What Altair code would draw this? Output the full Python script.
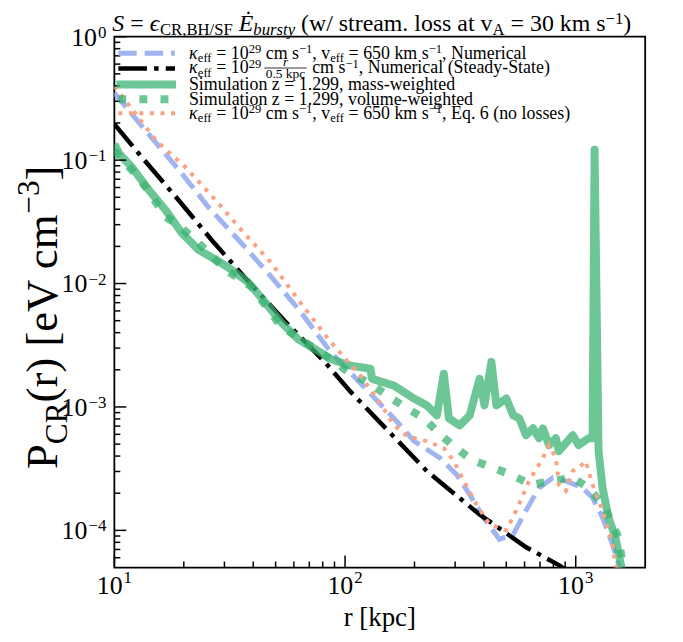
import altair as alt
import pandas as pd

# ---------------- data ----------------
blue_r = [10, 13.7, 19.6, 25.6, 35.5, 47.8, 64.4, 86.6, 123, 163, 199, 258, 305, 347,
          398, 467, 536, 609, 693, 796, 906, 1072, 1183, 1307, 1443, 1531, 1600]
blue_P = [0.35, 0.1725, 0.078, 0.0415, 0.0213, 0.01138, 0.00585, 0.00279, 0.0014,
          8.09e-4, 5.29e-4, 3.86e-4, 2.82e-4, 1.95e-4, 1.27e-4, 8.47e-5, 9.29e-5,
          1.45e-4, 2.21e-4, 2.67e-4, 2.52e-4, 2.21e-4, 1.84e-4, 1.27e-4, 7.72e-5,
          5.33e-5, 3.5e-5]

black_r = [10, 13.2, 19.0, 26.4, 38.1, 54.9, 81.6, 105.6, 226, 383, 610, 845, 1000]
black_P = [0.196, 0.1047, 0.0473, 0.02255, 0.01038, 0.00495, 0.00232, 0.00133,
           3.03e-4, 1.345e-4, 7.3e-5, 5.23e-5, 4.2e-5]

gsol_r = [10, 10.5, 11.95, 14.15, 16.7, 19.6, 23.2, 27.5, 32.2, 38.1, 45.1, 52.8, 62.5,
          73.9, 86.6, 105.6, 128.8, 131, 163, 199, 226, 250, 268, 282, 314, 347, 383,
          402, 431, 453, 500, 536, 569, 609, 653, 693, 721, 766, 820, 845, 971, 1030,
          1137, 1183, 1207, 1256, 1307, 1387, 1486, 1561, 1620]
gsol_P = [0.135, 0.1128, 0.0871, 0.0569, 0.0393, 0.0257, 0.01875, 0.0156, 0.01295,
          0.01019, 0.00703, 0.00486, 0.00355, 0.00295, 0.00245, 0.00216, 0.00204,
          0.00169, 0.00149, 0.00117, 0.00103, 8.55e-4, 0.00186, 8.09e-4, 7.1e-4,
          8.55e-4, 0.00169, 0.00103, 0.00232, 0.00103, 0.00117, 8.55e-4, 8.09e-4,
          5.9e-4, 6.71e-4, 5.58e-4, 6.71e-4, 4.91e-4, 5.58e-4, 4.39e-4, 5.9e-4,
          4.91e-4, 5.58e-4, 5.58e-4, 0.1214, 4.39e-4, 2.21e-4, 1.27e-4, 8.79e-5,
          5.53e-5, 4.0e-5]

gdot_r = [10, 11.95, 13.7, 16.7, 18.5, 23.2, 30.3, 39.2, 52.8, 71.1, 90.1, 105.6, 128.8,
          152, 180, 220, 255, 296, 354, 440, 536, 641, 796, 971, 1137, 1307, 1415,
          1531, 1592, 1650]
gdot_P = [0.119, 0.0824, 0.0601, 0.0345, 0.0309, 0.0213, 0.01295, 0.00946, 0.00452,
          0.00312, 0.00232, 0.00186, 0.00155, 0.00124, 0.00101, 8.09e-4, 6.12e-4,
          4.82e-4, 3.72e-4, 3.21e-4, 2.77e-4, 2.34e-4, 2.52e-4, 2.67e-4, 2.21e-4,
          1.62e-4, 1.23e-4, 8.79e-5, 5.53e-5, 4.0e-5]

orng_r = [10, 15.2, 20.4, 27.5, 35.5, 47.8, 62.5, 86.6, 116.6, 138, 163, 186, 226, 268,
          296, 327, 371, 423, 500, 552, 628, 721, 766, 820, 845, 906, 971, 1030, 1104,
          1183, 1307, 1443, 1486, 1560]
orng_P = [0.397, 0.1435, 0.0871, 0.0473, 0.0272, 0.01476, 0.00743, 0.00336, 0.00179,
          0.00117, 7.1e-4, 5.79e-4, 5.28e-4, 4.64e-4, 3.65e-4, 2.52e-4, 1.62e-4,
          1.12e-4, 1.0e-4, 1.45e-4, 2.52e-4, 3.86e-4, 4.91e-4, 3.86e-4, 2.34e-4,
          2.09e-4, 3.03e-4, 3.21e-4, 3.65e-4, 2.34e-4, 1.45e-4, 7.72e-5, 5.33e-5,
          3.5e-5]

x_major = [10, 100, 1000]
x_minor = [20, 30, 40, 50, 60, 70, 80, 90, 200, 300, 400, 500, 600, 700, 800, 900]
y_major = [1, 0.1, 0.01, 0.001, 0.0001]
y_minor = [m * 10.0 ** e for e in (-1, -2, -3, -4) for m in range(2, 10)] + [6e-5, 7e-5, 8e-5, 9e-5]
y_sup = ["0", "−1", "−2", "−3", "−4"]
x_sup = ["1", "2", "3"]

legend_labels = [
    [("κ", "i"), ("eff", "sub"), (" = 10", "n"), ("29", "sup"), (" cm s", "n"), ("−1", "sup"),
     (", v", "n"), ("eff", "sub"), (" = 650 km s", "n"), ("−1", "sup"), (", Numerical", "n")],
    None,  # built with a fraction below
    [("Simulation z = 1.299, mass-weighted", "n")],
    [("Simulation z = 1.299, volume-weighted", "n")],
    [("κ", "i"), ("eff", "sub"), (" = 10", "n"), ("29", "sup"), (" cm s", "n"), ("−1", "sup"),
     (", v", "n"), ("eff", "sub"), (" = 650 km s", "n"), ("−1", "sup"), (", Eq. 6 (no losses)", "n")],
]
title_pieces = [("S", "i"), (" = ", "n"), ("ϵ", "i"), ("CR,BH/SF", "sub"), (" ", "n"),
                ("Ė", "i"), ("bursty", "subi"), (" (w/ stream. loss at v", "n"), ("A", "sub"),
                (" = 30 km s", "n"), ("−1", "sup"), (")", "n")]
ytitle_pieces = [("P", "n"), ("CR", "sub"), ("(r) [eV cm", "n"), ("−3", "sup"), ("]", "n")]

# ---------------- helpers ----------------
FONT = "Liberation Serif"
W_R = {' ': 250, '!': 333, '(': 333, ')': 333, ',': 250, '-': 333, '.': 250, '/': 278,
       '=': 564, '[': 333, ']': 333, '−': 564, 'A': 722, 'B': 667, 'C': 667, 'D': 722,
       'E': 611, 'F': 556, 'H': 722, 'N': 722, 'P': 556, 'R': 667, 'S': 556, 'V': 722,
       'a': 444, 'b': 500, 'c': 444, 'd': 500, 'e': 444, 'f': 333, 'g': 500, 'h': 500,
       'i': 278, 'k': 500, 'l': 278, 'm': 778, 'n': 500, 'o': 500, 'p': 500, 'q': 500,
       'r': 333, 's': 389, 't': 278, 'u': 500, 'v': 500, 'w': 722, 'x': 500, 'y': 500,
       'z': 444, 'κ': 520, 'ϵ': 430, 'Ė': 611}
for d in "0123456789":
    W_R[d] = 500
W_I = dict(W_R)
W_I.update({'S': 500, 'r': 389, 'y': 444, 'v': 444, 'κ': 500})


def tw(s, size, italic=False):
    tab = W_I if italic else W_R
    return sum(tab.get(c, 500) for c in s) * size / 1000.0


def rich(pieces, x, y, size, vertical=False, sub_off=0.2, sup_off=0.36):
    out = []
    pos = 0.0
    for txt, kind in pieces:
        it = kind in ("i", "subi")
        if kind.startswith("sub"):
            fs, off = size * 0.7, size * sub_off
        elif kind == "sup":
            fs, off = size * 0.7, -size * sup_off
        else:
            fs, off = size, 0.0
        lead = len(txt) - len(txt.lstrip(" "))
        shown = txt.strip(" ")
        p0 = pos + tw(" " * lead, fs, it)
        if shown:
            if vertical:
                out.append(dict(x=x + off, y=y - p0, text=shown, size=fs, italic=it))
            else:
                out.append(dict(x=x + p0, y=y + off, text=shown, size=fs, italic=it))
        pos += tw(txt, fs, it)
    return out, pos


dummy = pd.DataFrame({"a": [0]})
xsc = alt.Scale(type="log", domain=[10, 2000], nice=False)
ysc = alt.Scale(type="log", domain=[5e-5, 1], nice=False)


def text_layer(p, angle=0, align="left"):
    return alt.Chart(dummy).mark_text(
        align=align, baseline="alphabetic", font=FONT, fontSize=p["size"],
        fontStyle="italic" if p["italic"] else "normal", angle=angle, color="black"
    ).encode(x=alt.value(p["x"]), y=alt.value(p["y"]), text=alt.value(p["text"]))


def line(rs, ps, color, width, dash=None, opacity=1.0, join="miter"):
    df = pd.DataFrame({"r": rs, "P": ps})
    kw = dict(color=color, strokeWidth=width, opacity=opacity, clip=True, strokeJoin=join)
    if dash:
        kw["strokeDash"] = dash
    return alt.Chart(df).mark_line(**kw).encode(
        x=alt.X("r:Q", scale=xsc, axis=None), y=alt.Y("P:Q", scale=ysc, axis=None))


H = 534
W = 534
BLUE = "#a0b4f2"
ORNG = "#f9a384"
GREEN = "#3cb371"

layers = []
# curves
layers.append(line(blue_r, blue_P, BLUE, 5, dash=[18.5, 8]))
layers.append(line(black_r, black_P, "black", 4.5, dash=[28.8, 7.2, 4.5, 7.2]))
layers.append(line(gsol_r, gsol_P, GREEN, 8, opacity=0.75, join="round"))
layers.append(line(gdot_r, gdot_P, GREEN, 8, dash=[8, 13.2], opacity=0.75))
layers.append(line(orng_r, orng_P, ORNG, 4, dash=[4, 6.6]))

# inward ticks
def xticks(vals, ln):
    return alt.Chart(pd.DataFrame({"r": vals})).mark_rule(color="black", strokeWidth=1.5).encode(
        x=alt.X("r:Q", scale=xsc, axis=None), y=alt.value(H), y2=alt.value(H - ln))


def yticks(vals, ln):
    return alt.Chart(pd.DataFrame({"P": vals})).mark_rule(color="black", strokeWidth=1.5).encode(
        y=alt.Y("P:Q", scale=ysc, axis=None), x=alt.value(0), x2=alt.value(ln))


layers += [xticks(x_major, 12), xticks(x_minor, 6), yticks(y_major, 12), yticks(y_minor, 6)]

# tick labels
LS, SS = 26, 17
for v, s in zip(x_major, x_sup):
    sw = tw(s, SS)
    tot = tw("10", LS) + sw + 1
    layers.append(alt.Chart(pd.DataFrame({"r": [v]})).mark_text(
        align="left", baseline="alphabetic", font=FONT, fontSize=LS, dx=-tot / 2, color="black"
    ).encode(x=alt.X("r:Q", scale=xsc, axis=None), y=alt.value(561), text=alt.value("10")))
    layers.append(alt.Chart(pd.DataFrame({"r": [v]})).mark_text(
        align="left", baseline="alphabetic", font=FONT, fontSize=SS,
        dx=-tot / 2 + tw("10", LS) + 1, color="black"
    ).encode(x=alt.X("r:Q", scale=xsc, axis=None), y=alt.value(550), text=alt.value(s)))
for v, s in zip(y_major, y_sup):
    sw = tw(s, SS)
    layers.append(alt.Chart(pd.DataFrame({"P": [v]})).mark_text(
        align="right", baseline="alphabetic", font=FONT, fontSize=SS, dy=1, color="black"
    ).encode(y=alt.Y("P:Q", scale=ysc, axis=None), x=alt.value(-8), text=alt.value(s)))
    layers.append(alt.Chart(pd.DataFrame({"P": [v]})).mark_text(
        align="right", baseline="alphabetic", font=FONT, fontSize=LS, dy=9, color="black"
    ).encode(y=alt.Y("P:Q", scale=ysc, axis=None), x=alt.value(-8 - sw - 1), text=alt.value("10")))

# axis titles
layers.append(text_layer(dict(x=267, y=593, text="r [kpc]", size=27, italic=False), align="center"))
yt, _ = rich(ytitle_pieces, -58, 435, 45, vertical=True, sub_off=0.22, sup_off=0.40)
layers += [text_layer(p, angle=270) for p in yt]

# main title
tt, _ = rich(title_pieces, -2, -6, 24, sub_off=0.16, sup_off=0.30)
layers += [text_layer(p) for p in tt]

# legend
LFS = 18
TX = 75
baselines = [22, 37, 54, 68.5, 82.5]
hy = [16.7, 32, 48, 63, 77]
handles = [
    dict(color=BLUE, w=5, dash=[18.5, 8], op=1.0, x0=4, x1=61),
    dict(color="black", w=4.5, dash=[28.8, 7.2, 4.5, 7.2], op=1.0, x0=4, x1=61),
    dict(color=GREEN, w=8, dash=None, op=0.75, x0=2, x1=62),
    dict(color=GREEN, w=8, dash=[8, 13.2], op=0.75, x0=4, x1=61),
    dict(color=ORNG, w=4, dash=[4, 6.6], op=1.0, x0=4, x1=61),
]
for h, yy in zip(handles, hy):
    kw = dict(color=h["color"], strokeWidth=h["w"], opacity=h["op"])
    if h["dash"]:
        kw["strokeDash"] = h["dash"]
    layers.append(alt.Chart(dummy).mark_rule(**kw).encode(
        x=alt.value(h["x0"]), x2=alt.value(h["x1"]), y=alt.value(yy)))

for i, pcs in enumerate(legend_labels):
    if pcs is None:
        continue
    out, _ = rich(pcs, TX, baselines[i], LFS, sub_off=0.17, sup_off=0.33)
    layers += [text_layer(p) for p in out]

# line 2 with a fraction
b2 = baselines[1]
pre = [("κ", "i"), ("eff", "sub"), (" = 10", "n"), ("29", "sup")]
out, pos = rich(pre, TX, b2, LFS, sub_off=0.17, sup_off=0.33)
layers += [text_layer(p) for p in out]
den = "0.5 kpc"
dfs = 13.5
dw = tw(den, dfs)
fx0 = TX + pos + 3
fx1 = fx0 + dw + 3
barY = b2 - 5.5
layers.append(alt.Chart(dummy).mark_rule(color="black", strokeWidth=0.8).encode(
    x=alt.value(fx0), x2=alt.value(fx1), y=alt.value(barY)))
layers.append(text_layer(dict(x=(fx0 + fx1) / 2, y=barY - 2.5, text="r", size=13, italic=True), align="center"))
layers.append(text_layer(dict(x=(fx0 + fx1) / 2, y=barY + 10, text=den, size=dfs, italic=False), align="center"))
post = [(" cm s", "n"), ("−1", "sup"), (", Numerical (Steady-State)", "n")]
out, _ = rich(post, fx1 + 1, b2, LFS, sub_off=0.17, sup_off=0.33)
layers += [text_layer(p) for p in out]

chart = alt.layer(*layers).properties(
    width=W, height=H,
    padding={"left": 107, "top": 27, "right": 30, "bottom": 66},
    autosize=alt.AutoSizeParams(type="none"),
    background="white",
).configure_view(stroke="black", strokeWidth=1.8)

chart.save("out.html", embed_options={"renderer": "svg", "actions": False})
